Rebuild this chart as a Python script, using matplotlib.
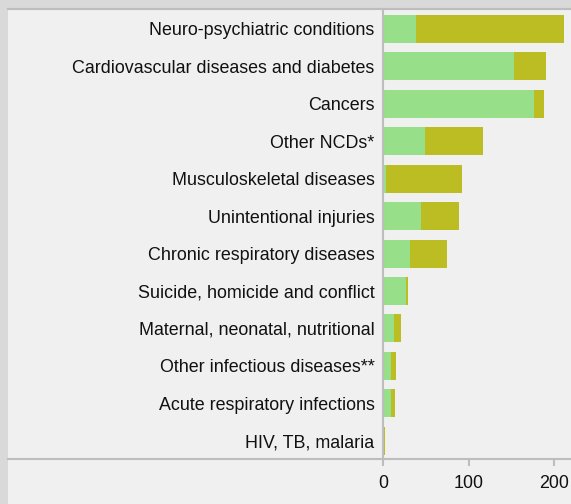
import matplotlib
matplotlib.use("Agg")
import matplotlib.pyplot as plt
from matplotlib.patches import Rectangle
from matplotlib.lines import Line2D

plt.rcParams['font.family'] = ['Liberation Sans', 'DejaVu Sans']

categories = ["Neuro-psychiatric conditions", "Cardiovascular diseases and diabetes",
              "Cancers", "Other NCDs*", "Musculoskeletal diseases", "Unintentional injuries",
              "Chronic respiratory diseases", "Suicide, homicide and conflict",
              "Maternal, neonatal, nutritional", "Other infectious diseases**",
              "Acute respiratory infections", "HIV, TB, malaria"]
green_vals = [38.5, 153, 176.5, 49, 3.5, 44.5, 31.5, 27, 13, 9.5, 9.5, 0.3]
olive_vals = [173, 37.5, 11.5, 68, 89, 44.5, 43.5, 2, 8, 5.5, 4.5, 2.2]
xticks = [0, 100, 200]

W, H = 571, 504
fig = plt.figure(figsize=(W / 100, H / 100), dpi=100, facecolor='#d9d9d9')

# inner panel
fig.patches.append(Rectangle((8 / W, 0), 1 - 8 / W, 1 - 9 / H, transform=fig.transFigure,
                             facecolor='#f0f0f0', edgecolor='none', zorder=-2))
fig.lines.append(Line2D([8 / W, 1], [1 - 9 / H, 1 - 9 / H], transform=fig.transFigure,
                        color='#bdbdbd', lw=1.5, zorder=-1))
fig.lines.append(Line2D([8 / W, 1], [1 - 459 / H, 1 - 459 / H], transform=fig.transFigure,
                        color='#bdbdbd', lw=1.5, zorder=-1))

x0 = 383.3
ax = fig.add_axes([x0 / W, 1 - 459 / H, (W - x0) / W, (459 - 9) / H])
ax.set_zorder(2)
ax.set_facecolor('none')
ypos = list(range(len(categories)))
ax.barh(ypos, green_vals, height=0.75, color='#98df8a', zorder=2)
ax.barh(ypos, olive_vals, left=green_vals, height=0.75, color='#bcbd22', zorder=2)
ax.set_xlim(0, (W - x0) / 0.855)
ax.set_ylim(11.49, -0.534)
ax.set_yticks(ypos)
ax.set_yticklabels(categories, fontsize=12.9, color='#111111')
ax.set_xticks(xticks)
ax.set_xticklabels([str(t) for t in xticks], fontsize=12.9, color='#111111')
ax.tick_params(axis='y', length=0, pad=6.3)
ax.tick_params(axis='x', length=5, width=1.5, color='#bdbdbd', pad=6.5, direction='out')
for s in ['top', 'right', 'bottom']:
    ax.spines[s].set_visible(False)
ax.spines['left'].set_color('#bdbdbd')
ax.spines['left'].set_linewidth(1.5)
ax.spines['left'].set_zorder(3)

fig.savefig('out.png', dpi=100, facecolor=fig.get_facecolor())
